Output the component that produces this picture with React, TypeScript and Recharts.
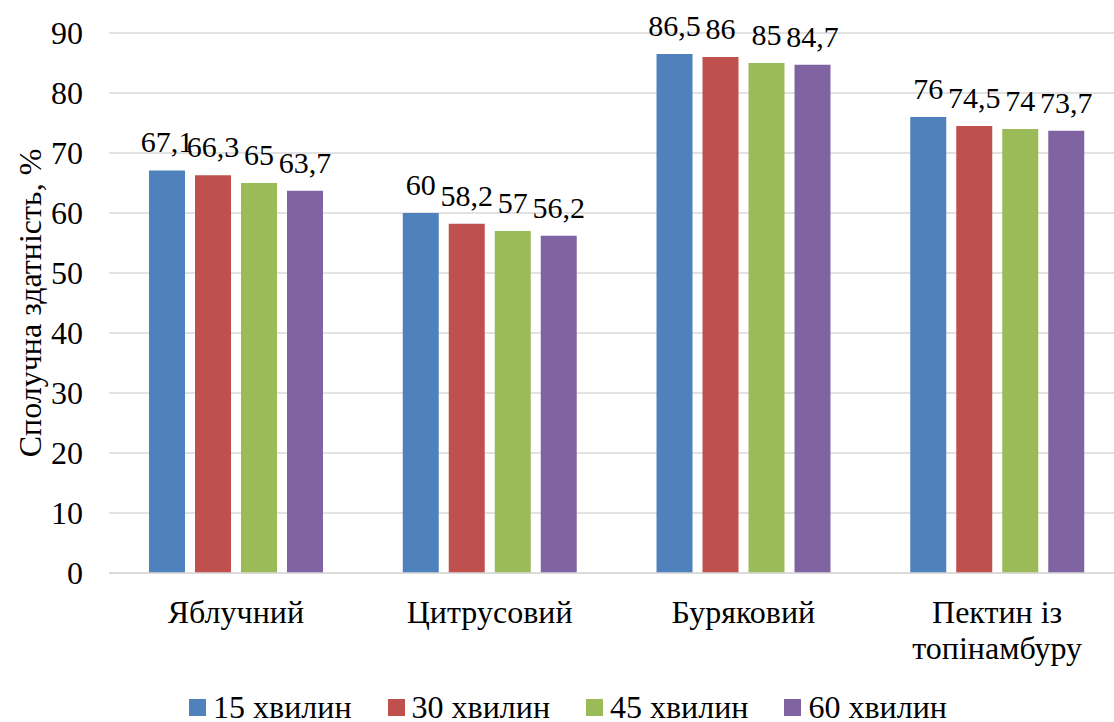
import { BarChart, Bar, XAxis, YAxis, CartesianGrid, Legend, LabelList, Label } from "recharts";

const FONT = "'Liberation Serif', 'Times New Roman', serif";
const FS = 32;

const categories = ["Яблучний", "Цитрусовий", "Буряковий", "Пектин із топінамбуру"];
const min15 = [67.1, 60, 86.5, 76];
const min30 = [66.3, 58.2, 86, 74.5];
const min45 = [65, 57, 85, 74];
const min60 = [63.7, 56.2, 84.7, 73.7];
const yTicks = [0, 10, 20, 30, 40, 50, 60, 70, 80, 90];

const series = [
  { key: "m15", name: "15 хвилин", color: "#4F81BD", values: min15 },
  { key: "m30", name: "30 хвилин", color: "#C0504D", values: min30 },
  { key: "m45", name: "45 хвилин", color: "#9BBB59", values: min45 },
  { key: "m60", name: "60 хвилин", color: "#8064A2", values: min60 },
];

const data = categories.map((name, i) => {
  const row: Record<string, string | number> = { name };
  series.forEach((s) => (row[s.key] = s.values[i]));
  return row;
});

const fmt = (v: unknown) => String(v).replace(".", ",");

const textStyle = { fontSize: FS, fontFamily: FONT };
const valueStyle = { fontSize: 30, fontFamily: FONT };

// greedy word wrap, max chars per line
const wrap = (label: string, max = 12) => {
  const lines: string[] = [];
  label.split(" ").forEach((w) => {
    const last = lines[lines.length - 1];
    if (last !== undefined && (last + " " + w).length <= max) lines[lines.length - 1] = last + " " + w;
    else lines.push(w);
  });
  return lines;
};

const CategoryTick = ({ x, y, payload }: any) => (
  <text x={x} y={y + 42} textAnchor="middle" style={textStyle} fill="#000">
    {wrap(String(payload.value)).map((line, i) => (
      <tspan key={i} x={x} dy={i === 0 ? 0 : 36}>
        {line}
      </tspan>
    ))}
  </text>
);

const AxisTitle = ({ viewBox }: any) => {
  const cy = viewBox.y + viewBox.height / 2;
  return (
    <text
      x={41}
      y={cy}
      transform={`rotate(-90, 41, ${cy})`}
      textAnchor="middle"
      style={textStyle}
      fill="#000"
    >
      Сполучна здатність, %
    </text>
  );
};

const LegendRow = () => (
  <div
    style={{
      display: "flex",
      justifyContent: "center",
      gap: 36,
      height: 50,
      paddingTop: 20,
      paddingLeft: 12,
      boxSizing: "border-box",
      fontFamily: FONT,
      fontSize: FS,
      lineHeight: `${FS}px`,
      color: "#000",
    }}
  >
    {series.map((s) => (
      <div key={s.key} style={{ display: "flex", alignItems: "center", gap: 7 }}>
        <span style={{ width: 17, height: 17, background: s.color, display: "inline-block" }} />
        <span>{s.name}</span>
      </div>
    ))}
  </div>
);

export default function App() {
  return (
    <div
      style={{
        position: "fixed",
        left: 0,
        top: 0,
        width: 1114,
        height: 722,
        overflow: "hidden",
        background: "#fff",
        fontFamily: FONT,
      }}
    >
      <BarChart
        width={1130}
        height={722}
        data={data}
        margin={{ top: 33, right: 6, bottom: 0, left: 0 }}
        barSize={36}
        barGap={10}
      >
        <CartesianGrid vertical={false} stroke="#d9d9d9" strokeWidth={1.5} />
        <XAxis
          dataKey="name"
          height={99}
          axisLine={{ stroke: "#d9d9d9", strokeWidth: 1.5 }}
          tickLine={false}
          tick={<CategoryTick />}
          interval={0}
        />
        <YAxis
          width={109}
          domain={[0, 90]}
          ticks={yTicks}
          axisLine={false}
          tickLine={false}
          tickMargin={20}
          tick={{ fill: "#000", style: textStyle }}
        >
          <Label content={<AxisTitle />} />
        </YAxis>
        <Legend verticalAlign="bottom" content={<LegendRow />} />
        {series.map((s) => (
          <Bar key={s.key} dataKey={s.key} name={s.name} fill={s.color} isAnimationActive={false}>
            <LabelList
              dataKey={s.key}
              position="top"
              offset={18}
              formatter={fmt}
              fill="#000"
              style={valueStyle}
            />
          </Bar>
        ))}
      </BarChart>
    </div>
  );
}
